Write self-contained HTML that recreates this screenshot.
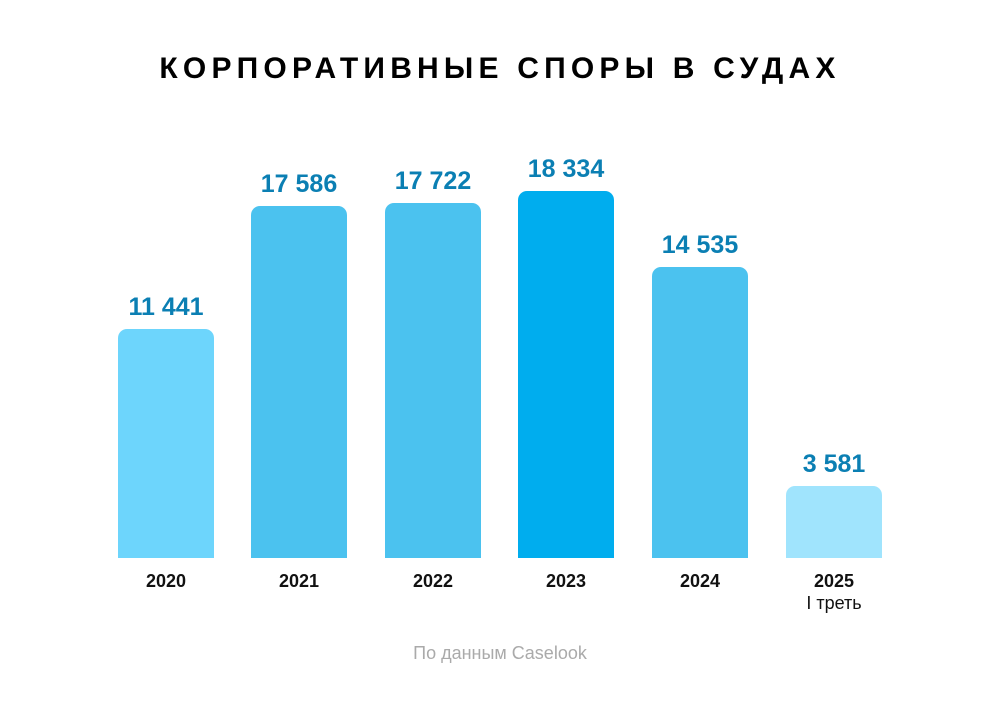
<!DOCTYPE html>
<html><head><meta charset="utf-8"><style>
body{margin:0;width:1000px;height:703px;background:#fff;font-family:"Liberation Sans","DejaVu Sans",sans-serif;position:relative;overflow:hidden}
.t{position:absolute;left:0;width:1000px;top:52px;text-align:center;font-size:30px;font-weight:bold;letter-spacing:5.2px;color:#000}
.b{position:absolute;width:96px;bottom:145px;border-radius:9px 9px 0 0}
.v{position:absolute;width:160px;text-align:center;font-size:25px;font-weight:bold;color:#0b7fb3}
.y{position:absolute;width:160px;text-align:center;font-size:18px;font-weight:bold;color:#111;top:570px;line-height:22px}
.s{position:absolute;left:0;width:1000px;text-align:center;top:643px;font-size:18px;color:#aaa}
</style></head><body>
<div class="t">КОРПОРАТИВНЫЕ СПОРЫ В СУДАХ</div>
<div class="b" style="left:118px;top:329px;background:#6dd5fc"></div>
<div class="b" style="left:251px;top:206px;background:#4bc2ef"></div>
<div class="b" style="left:385px;top:203px;background:#4bc2ef"></div>
<div class="b" style="left:518px;top:191px;background:#00adee"></div>
<div class="b" style="left:652px;top:267px;background:#4bc2ef"></div>
<div class="b" style="left:786px;top:486px;background:#a0e4fd"></div>
<div class="v" style="left:86px;top:293px">11 441</div>
<div class="v" style="left:219px;top:170px">17 586</div>
<div class="v" style="left:353px;top:167px">17 722</div>
<div class="v" style="left:486px;top:155px">18 334</div>
<div class="v" style="left:620px;top:231px">14 535</div>
<div class="v" style="left:754px;top:450px">3 581</div>
<div class="y" style="left:86px">2020</div>
<div class="y" style="left:219px">2021</div>
<div class="y" style="left:353px">2022</div>
<div class="y" style="left:486px">2023</div>
<div class="y" style="left:620px">2024</div>
<div class="y" style="left:754px">2025<br><span style="font-weight:normal">I треть</span></div>
<div class="s">По данным Caselook</div>
</body></html>
